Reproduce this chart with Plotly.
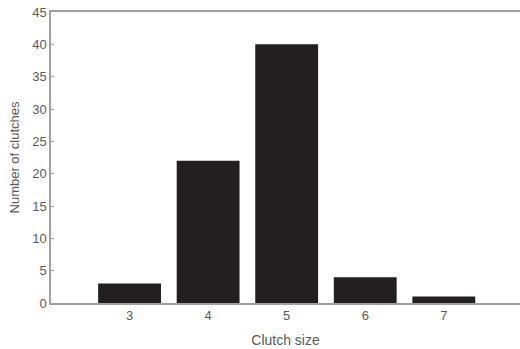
import plotly.graph_objects as go

clutch_size = [3, 4, 5, 6, 7]
num_clutches = [3, 22, 40, 4, 1]
y_ticks = [0, 5, 10, 15, 20, 25, 30, 35, 40, 45]

fig = go.Figure(go.Bar(
    x=clutch_size, y=num_clutches, width=0.8,
    marker=dict(color="#231f20", line=dict(width=0)),
))

family = "Liberation Sans, Arial, sans-serif"
tick_font = dict(family=family, size=13, color="#5a5a5a")
xtitle_font = dict(family=family, size=14, color="#5a5a5a")
ytitle_font = dict(family=family, size=13, color="#5a5a5a")
fig.update_layout(
    width=520, height=349,
    margin=dict(l=51, r=0, t=12, b=46),
    paper_bgcolor="white", plot_bgcolor="white",
    showlegend=False,
    font=tick_font,
)
fig.update_xaxes(
    range=[2, 7.97], tickvals=clutch_size, ticks="",
    showline=True, linecolor="#a0a0a0", linewidth=1.5, mirror=True,
    showgrid=False, zeroline=False, automargin=False,
    title=dict(text="Clutch size", font=xtitle_font, standoff=13),
    tickfont=tick_font, ticklabeloverflow="allow",
)
fig.update_yaxes(
    range=[0, 45], tickvals=y_ticks, ticks="inside", ticklen=3, tickcolor="#a0a0a0",
    showline=True, linecolor="#a0a0a0", linewidth=1.5, mirror=False,
    showgrid=False, zeroline=False, automargin=False,
    title=dict(text="Number of clutches", font=ytitle_font, standoff=10),
    tickfont=tick_font, ticklabeloverflow="allow",
)
fig.write_html(
    "out.html",
    config={"displayModeBar": False},
    post_script="document.body.style.margin='0';",
)
